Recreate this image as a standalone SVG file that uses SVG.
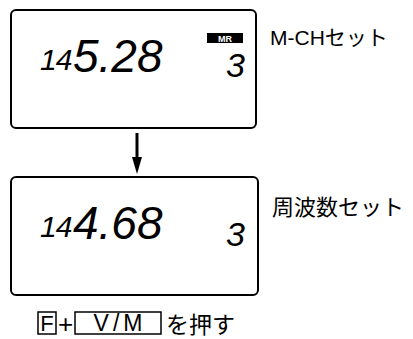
<svg xmlns="http://www.w3.org/2000/svg" width="413" height="339" viewBox="0 0 413 339">
<style>
.lcd{fill:#fff;stroke:#000;stroke-width:2}
.dig{font-family:"Liberation Sans",sans-serif;font-style:italic;fill:#000}
.lbl{font-family:"Liberation Sans","Noto Sans CJK JP",sans-serif;fill:#000}
.key{fill:none;stroke:#000;stroke-width:1.5}
</style>
<rect width="413" height="339" fill="#fff"/>
<g id="display1">
<rect class="lcd" x="11" y="10" width="245" height="118" rx="5"/>
<text class="dig" x="40" y="70" font-size="30" letter-spacing="-1">14</text>
<text class="dig" x="73" y="72" font-size="46">5.28</text>
<rect x="207" y="33" width="36" height="10" fill="#000"/>
<text x="225" y="41.5" font-family="Liberation Sans,sans-serif" font-weight="bold" font-size="9" fill="#fff" text-anchor="middle">MR</text>
<text class="dig" x="226" y="77" font-size="34">3</text>
</g>
<g id="label1"><text class="lbl" x="270" y="45" font-size="21">M-CHセット</text></g>
<g id="connectors">
<line x1="137" y1="133" x2="137" y2="160" stroke="#000" stroke-width="3"/>
<polygon points="132,157 142,157 137,174" fill="#000"/>
</g>
<g id="display2">
<rect class="lcd" x="11" y="177" width="247" height="118" rx="5"/>
<text class="dig" x="40" y="237" font-size="30" letter-spacing="-1">14</text>
<text class="dig" x="73" y="239" font-size="46">4.68</text>
<text class="dig" x="226" y="246" font-size="34">3</text>
</g>
<g id="label2"><text class="lbl" x="272" y="215" font-size="22">周波数セット</text></g>
<g id="caption">
<rect class="key" x="38" y="312" width="18" height="22"/>
<text class="lbl" x="47" y="331" font-size="22" text-anchor="middle">F</text>
<text class="lbl" x="65.5" y="333" font-size="26" text-anchor="middle">+</text>
<rect class="key" x="75" y="312" width="86" height="22"/>
<text class="lbl" x="120" y="331" font-size="23" text-anchor="middle" letter-spacing="4">V/M</text>
<text class="lbl" x="166" y="333" font-size="23">を押す</text>
</g>
</svg>
